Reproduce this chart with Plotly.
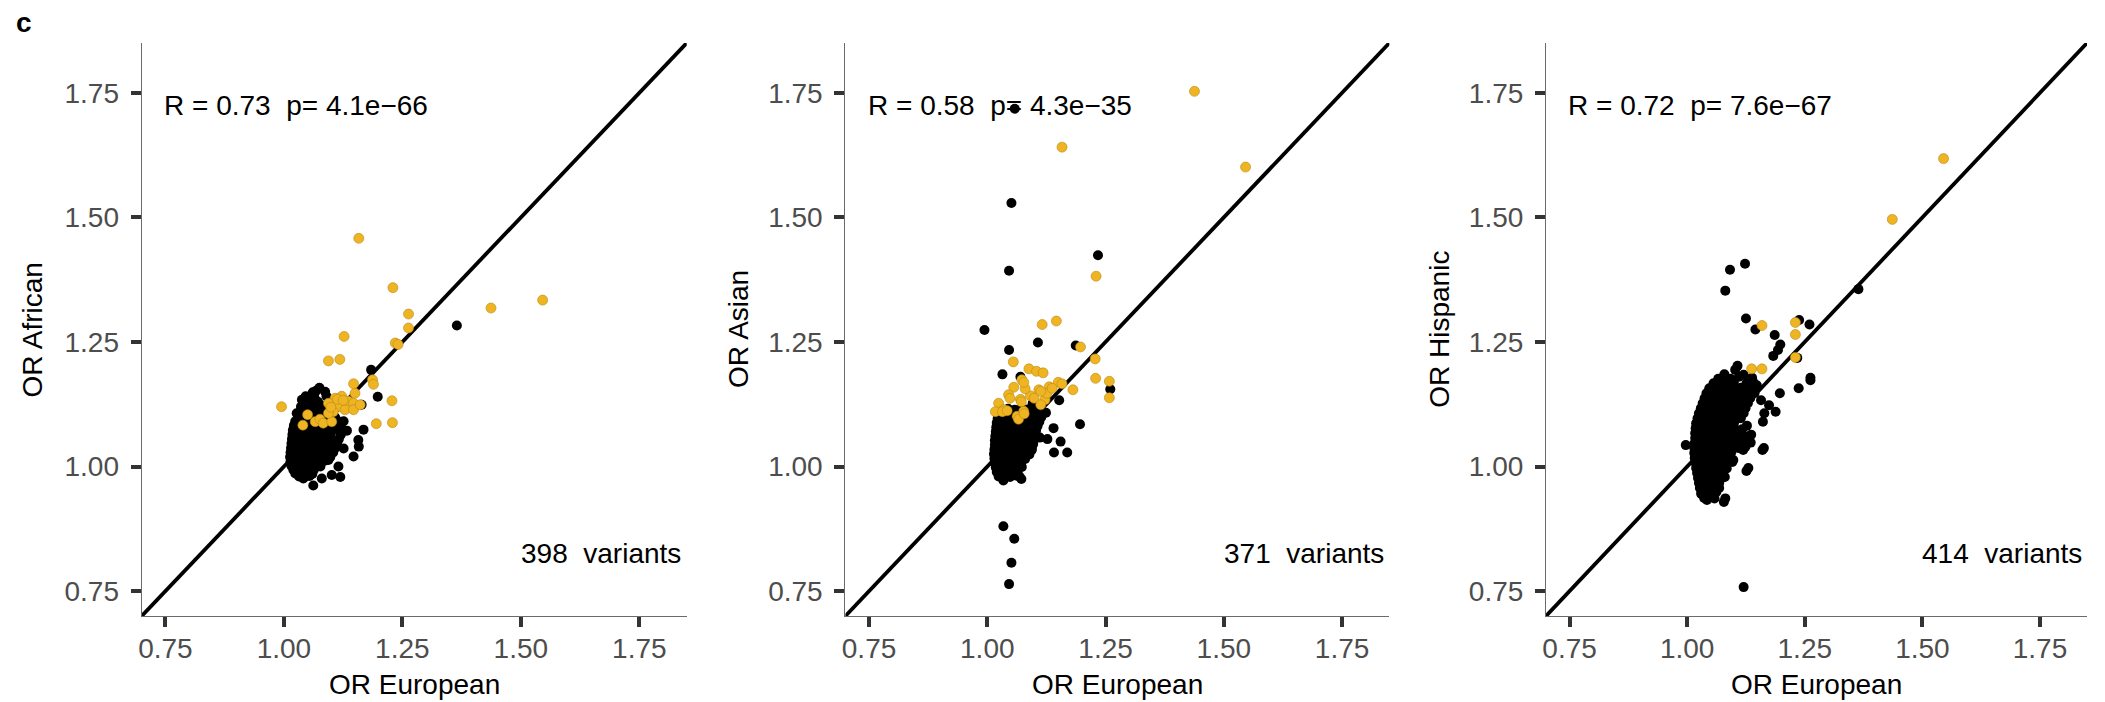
import plotly.graph_objects as go

# Shared axis settings (odds ratios)
AXIS_MIN, AXIS_MAX = 0.7, 1.85
TICK_VALS = [0.75, 1.00, 1.25, 1.50, 1.75]
TICK_TEXT = ["0.75", "1.00", "1.25", "1.50", "1.75"]

populations = ["African", "Asian", "Hispanic"]
r_values = ["0.73", "0.58", "0.72"]
p_values = ["4.1e\u221266", "4.3e\u221235", "7.6e\u221267"]
n_variants = [398, 371, 414]

# ---------------- African vs European ----------------
afr_highlight = [
    (1.158, 1.458), (1.230, 1.359), (1.263, 1.306), (1.263, 1.278), (1.437, 1.318),
    (1.546, 1.334), (1.127, 1.261), (1.235, 1.248), (1.241, 1.245), (1.094, 1.212),
    (1.118, 1.215), (1.147, 1.166), (1.187, 1.174), (1.189, 1.165), (1.228, 1.132),
    (1.229, 1.088), (1.195, 1.086), (0.995, 1.120), (1.040, 1.083), (1.050, 1.104),
    (1.066, 1.090), (1.076, 1.095), (1.083, 1.087), (1.101, 1.090), (1.108, 1.137),
    (1.122, 1.141), (1.136, 1.131), (1.150, 1.147), (1.147, 1.127), (1.118, 1.120),
    (1.104, 1.110), (1.129, 1.114), (1.147, 1.114), (1.161, 1.124), (1.094, 1.127),
    (1.094, 1.107), (1.099, 1.119), (1.113, 1.135), (1.125, 1.133),
]
afr_other = [
    (1.365, 1.283), (1.184, 1.194), (1.198, 1.140), (1.168, 1.074), (1.157, 1.053),
    (1.158, 1.040), (1.133, 1.072), (1.126, 1.036), (1.119, 0.979), (1.115, 1.000),
    (1.101, 0.983), (1.094, 1.013), (1.062, 0.962), (1.080, 0.976), (1.164, 1.124),
    (1.042, 1.133), (1.075, 1.158), (1.061, 1.149), (1.087, 1.150), (1.038, 1.134),
    (1.027, 1.107), (1.147, 1.020), (1.090, 1.141), (1.077, 1.000),
    (1.041, 0.976),
    (1.032, 0.980), (1.044, 0.979), (1.054, 0.981),
    (1.024, 0.986), (1.036, 0.984), (1.048, 0.987), (1.060, 0.985),
    (1.020, 0.993), (1.030, 0.994), (1.041, 0.992), (1.052, 0.995), (1.063, 0.993),
    (1.016, 1.001), (1.027, 1.002), (1.038, 1.000), (1.049, 1.003), (1.060, 1.001), (1.070, 1.002),
    (1.014, 1.010), (1.025, 1.011), (1.036, 1.009), (1.047, 1.012), (1.058, 1.010), (1.069, 1.011),
    (1.080, 1.009), (1.088, 1.012),
    (1.013, 1.019), (1.024, 1.020), (1.035, 1.018), (1.046, 1.021), (1.057, 1.019), (1.068, 1.020),
    (1.079, 1.018), (1.091, 1.021), (1.098, 1.019),
    (1.014, 1.028), (1.025, 1.029), (1.036, 1.027), (1.047, 1.030), (1.058, 1.028), (1.069, 1.029),
    (1.080, 1.027), (1.092, 1.030), (1.104, 1.028),
    (1.015, 1.037), (1.026, 1.038), (1.037, 1.036), (1.048, 1.039), (1.059, 1.037), (1.070, 1.038),
    (1.081, 1.036), (1.093, 1.039), (1.108, 1.037),
    (1.016, 1.046), (1.027, 1.047), (1.038, 1.045), (1.049, 1.048), (1.060, 1.046), (1.071, 1.047),
    (1.083, 1.045), (1.095, 1.048), (1.112, 1.046),
    (1.017, 1.055), (1.028, 1.056), (1.039, 1.054), (1.050, 1.057), (1.061, 1.055), (1.072, 1.056),
    (1.084, 1.054), (1.097, 1.057), (1.116, 1.055),
    (1.018, 1.064), (1.029, 1.065), (1.040, 1.063), (1.051, 1.066), (1.062, 1.064), (1.074, 1.065),
    (1.086, 1.063), (1.099, 1.066), (1.120, 1.064),
    (1.019, 1.073), (1.031, 1.074), (1.042, 1.072), (1.053, 1.075), (1.064, 1.073), (1.076, 1.074),
    (1.088, 1.072), (1.101, 1.075), (1.116, 1.073),
    (1.021, 1.082), (1.034, 1.083), (1.045, 1.081), (1.056, 1.084), (1.067, 1.082), (1.079, 1.083),
    (1.091, 1.081), (1.104, 1.084), (1.120, 1.082),
    (1.024, 1.091), (1.038, 1.092), (1.049, 1.090), (1.060, 1.093), (1.072, 1.091), (1.085, 1.092),
    (1.098, 1.090), (1.112, 1.093), (1.126, 1.091),
    (1.031, 1.100), (1.043, 1.101), (1.055, 1.099), (1.067, 1.102), (1.080, 1.100), (1.093, 1.101),
    (1.108, 1.099),
    (1.035, 1.110), (1.048, 1.111), (1.062, 1.109), (1.077, 1.112), (1.090, 1.109),
    (1.036, 1.120), (1.052, 1.121), (1.068, 1.119), (1.084, 1.122),
    (1.046, 1.141), (1.064, 1.140), (1.057, 1.126), (1.072, 1.130),
    (1.068, 1.152),
]

# ---------------- Asian vs European ----------------
asn_highlight = [
    (1.438, 1.753), (1.158, 1.641), (1.546, 1.601), (1.230, 1.382), (1.146, 1.292),
    (1.116, 1.285), (1.197, 1.240), (1.228, 1.216), (1.229, 1.177), (1.258, 1.171),
    (1.258, 1.138), (1.181, 1.154), (1.055, 1.210), (1.088, 1.196), (1.104, 1.191),
    (1.118, 1.188), (1.150, 1.169), (1.158, 1.166), (1.131, 1.160), (1.073, 1.174),
    (1.056, 1.159), (1.045, 1.144), (1.070, 1.135), (1.091, 1.142), (1.109, 1.154),
    (1.122, 1.134), (1.126, 1.147), (1.024, 1.127), (1.017, 1.110), (1.035, 1.114),
    (1.063, 1.101), (1.077, 1.111), (1.032, 1.110), (1.042, 1.112), (1.066, 1.095),
    (1.078, 1.106), (1.072, 1.130), (1.048, 1.137), (1.080, 1.156), (1.077, 1.169),
    (1.099, 1.137), (1.113, 1.124), (1.137, 1.157), (1.113, 1.151),
]
asn_other = [
    (1.058, 1.718), (1.051, 1.529), (1.046, 1.393), (0.994, 1.274), (1.046, 1.234),
    (1.107, 1.249), (1.187, 1.243), (1.234, 1.424), (1.032, 1.185), (1.070, 1.180),
    (1.260, 1.155), (1.152, 1.133), (1.124, 1.108), (1.196, 1.085), (1.140, 1.077),
    (1.111, 1.058), (1.127, 1.055), (1.155, 1.050), (1.141, 1.028), (1.169, 1.028),
    (1.072, 0.975), (1.034, 0.972), (1.034, 0.880), (1.057, 0.855), (1.051, 0.807),
    (1.046, 0.764), (1.094, 1.033), (1.089, 1.024), (1.096, 1.127),
    (1.024, 0.980), (1.036, 0.981), (1.048, 0.979), (1.060, 0.982), (1.068, 0.980),
    (1.020, 0.989), (1.031, 0.990), (1.042, 0.988), (1.053, 0.991), (1.064, 0.989),
    (1.018, 0.998), (1.029, 0.999), (1.040, 0.997), (1.051, 1.000), (1.062, 0.998), (1.073, 0.999),
    (1.016, 1.007), (1.027, 1.008), (1.038, 1.006), (1.049, 1.009), (1.060, 1.007), (1.071, 1.008),
    (1.015, 1.016), (1.026, 1.017), (1.037, 1.015), (1.048, 1.018), (1.059, 1.016), (1.070, 1.017),
    (1.080, 1.015),
    (1.014, 1.025), (1.025, 1.026), (1.036, 1.024), (1.047, 1.027), (1.058, 1.025), (1.069, 1.026),
    (1.081, 1.024),
    (1.015, 1.034), (1.026, 1.035), (1.037, 1.033), (1.048, 1.036), (1.059, 1.034), (1.070, 1.035),
    (1.082, 1.033), (1.094, 1.036),
    (1.016, 1.043), (1.027, 1.044), (1.038, 1.042), (1.049, 1.045), (1.060, 1.043), (1.072, 1.044),
    (1.084, 1.042), (1.097, 1.045),
    (1.016, 1.052), (1.027, 1.053), (1.038, 1.051), (1.049, 1.054), (1.061, 1.052), (1.073, 1.053),
    (1.086, 1.051), (1.099, 1.054),
    (1.017, 1.061), (1.028, 1.062), (1.039, 1.060), (1.050, 1.063), (1.062, 1.061), (1.074, 1.062),
    (1.087, 1.060), (1.101, 1.063),
    (1.018, 1.070), (1.029, 1.071), (1.040, 1.069), (1.051, 1.072), (1.063, 1.070), (1.075, 1.071),
    (1.088, 1.069), (1.103, 1.072),
    (1.019, 1.079), (1.030, 1.080), (1.041, 1.078), (1.053, 1.081), (1.065, 1.079), (1.077, 1.080),
    (1.090, 1.078), (1.106, 1.081),
    (1.020, 1.088), (1.031, 1.089), (1.043, 1.087), (1.055, 1.090), (1.067, 1.088), (1.080, 1.089),
    (1.094, 1.087), (1.110, 1.090),
    (1.022, 1.097), (1.033, 1.098), (1.045, 1.096), (1.057, 1.099), (1.070, 1.097), (1.084, 1.098),
    (1.098, 1.096), (1.114, 1.099),
    (1.025, 1.106), (1.037, 1.107), (1.049, 1.105), (1.062, 1.108), (1.076, 1.106), (1.090, 1.107),
    (1.104, 1.105),
    (1.030, 1.115), (1.044, 1.116), (1.058, 1.114), (1.072, 1.117), (1.087, 1.115), (1.100, 1.116),
]

# ---------------- Hispanic vs European ----------------
his_highlight = [
    (1.545, 1.618), (1.436, 1.496), (1.159, 1.283), (1.230, 1.289), (1.230, 1.265),
    (1.230, 1.219), (1.137, 1.196), (1.159, 1.196),
]
his_other = [
    (1.123, 1.407), (1.091, 1.395), (1.081, 1.353), (1.364, 1.356), (1.125, 1.297),
    (1.238, 1.294), (1.260, 1.285), (1.145, 1.275), (1.186, 1.264), (1.198, 1.245),
    (1.193, 1.234), (1.183, 1.222), (1.234, 1.218), (1.107, 1.202), (1.262, 1.178),
    (1.262, 1.173), (1.237, 1.157), (1.197, 1.147), (1.102, 1.194),
    (1.157, 1.133), (1.174, 1.123), (1.164, 1.107), (1.188, 1.110), (1.161, 1.090),
    (1.127, 1.082), (1.160, 1.033), (1.126, 0.991), (1.096, 1.009), (1.080, 0.979),
    (1.078, 0.929), (0.997, 1.043), (1.042, 0.933), (1.030, 0.945), (1.120, 0.758),
    (1.163, 1.037), (1.130, 0.997), (1.098, 1.013), (1.081, 0.936), (1.043, 0.938),
    (1.114, 1.059), (1.126, 1.050), (1.119, 1.033),
    (1.036, 0.937), (1.048, 0.939), (1.058, 0.936),
    (1.030, 0.947), (1.041, 0.948), (1.052, 0.946), (1.062, 0.949),
    (1.027, 0.957), (1.038, 0.958), (1.049, 0.956), (1.060, 0.959), (1.068, 0.957),
    (1.025, 0.967), (1.036, 0.968), (1.047, 0.966), (1.058, 0.969), (1.068, 0.967),
    (1.023, 0.977), (1.034, 0.978), (1.045, 0.976), (1.056, 0.979), (1.067, 0.977), (1.076, 0.978),
    (1.021, 0.987), (1.032, 0.988), (1.043, 0.986), (1.054, 0.989), (1.065, 0.987), (1.076, 0.988),
    (1.019, 0.997), (1.030, 0.998), (1.041, 0.996), (1.052, 0.999), (1.063, 0.997), (1.074, 0.998),
    (1.084, 0.996),
    (1.018, 1.007), (1.029, 1.008), (1.040, 1.006), (1.051, 1.009), (1.062, 1.007), (1.073, 1.008),
    (1.085, 1.006),
    (1.016, 1.017), (1.027, 1.018), (1.038, 1.016), (1.049, 1.019), (1.060, 1.017), (1.071, 1.018),
    (1.083, 1.016), (1.092, 1.019),
    (1.015, 1.027), (1.026, 1.028), (1.037, 1.026), (1.048, 1.029), (1.059, 1.027), (1.070, 1.028),
    (1.082, 1.026), (1.094, 1.029),
    (1.015, 1.037), (1.026, 1.038), (1.037, 1.036), (1.048, 1.039), (1.059, 1.037), (1.071, 1.038),
    (1.083, 1.036), (1.096, 1.039), (1.110, 1.037), (1.124, 1.040),
    (1.016, 1.047), (1.025, 1.048), (1.036, 1.046), (1.047, 1.049), (1.058, 1.047), (1.070, 1.048),
    (1.082, 1.046), (1.095, 1.049), (1.108, 1.047), (1.121, 1.050), (1.135, 1.048),
    (1.017, 1.057), (1.025, 1.058), (1.036, 1.056), (1.047, 1.059), (1.058, 1.057), (1.070, 1.058),
    (1.083, 1.056), (1.097, 1.059), (1.112, 1.057), (1.128, 1.060),
    (1.017, 1.067), (1.026, 1.068), (1.037, 1.066), (1.048, 1.069), (1.059, 1.067), (1.071, 1.068),
    (1.084, 1.066), (1.098, 1.069), (1.114, 1.067), (1.136, 1.064),
    (1.018, 1.077), (1.026, 1.078), (1.037, 1.076), (1.048, 1.079), (1.060, 1.077), (1.072, 1.078),
    (1.085, 1.076), (1.099, 1.079), (1.117, 1.075),
    (1.019, 1.087), (1.027, 1.088), (1.038, 1.086), (1.049, 1.089), (1.061, 1.087), (1.073, 1.088),
    (1.086, 1.086), (1.100, 1.089),
    (1.022, 1.097), (1.030, 1.098), (1.041, 1.096), (1.051, 1.099), (1.063, 1.097), (1.075, 1.098),
    (1.088, 1.096), (1.102, 1.099), (1.114, 1.097),
    (1.025, 1.107), (1.034, 1.108), (1.045, 1.106), (1.055, 1.109), (1.067, 1.107), (1.080, 1.108),
    (1.093, 1.106), (1.107, 1.109), (1.120, 1.107),
    (1.029, 1.117), (1.039, 1.118), (1.050, 1.116), (1.061, 1.119), (1.073, 1.117), (1.086, 1.118),
    (1.099, 1.116), (1.112, 1.119), (1.124, 1.117),
    (1.033, 1.127), (1.044, 1.128), (1.055, 1.126), (1.067, 1.129), (1.080, 1.127), (1.093, 1.128),
    (1.106, 1.126), (1.118, 1.129), (1.129, 1.127),
    (1.037, 1.137), (1.048, 1.138), (1.060, 1.136), (1.072, 1.139), (1.084, 1.137), (1.097, 1.138),
    (1.110, 1.136), (1.122, 1.139), (1.134, 1.137),
    (1.041, 1.147), (1.053, 1.148), (1.066, 1.146), (1.079, 1.149), (1.092, 1.147), (1.105, 1.148),
    (1.118, 1.146), (1.131, 1.149), (1.143, 1.147),
    (1.047, 1.157), (1.060, 1.158), (1.072, 1.156), (1.086, 1.159), (1.100, 1.157), (1.114, 1.158),
    (1.128, 1.156), (1.140, 1.159), (1.148, 1.163),
    (1.056, 1.167), (1.070, 1.168), (1.084, 1.166), (1.099, 1.169), (1.126, 1.167), (1.140, 1.170),
    (1.066, 1.176), (1.079, 1.179), (1.092, 1.176), (1.138, 1.178), (1.110, 1.180),
    (1.079, 1.185), (1.120, 1.184),
]

panels = [
    (afr_other, afr_highlight),
    (asn_other, asn_highlight),
    (his_other, his_highlight),
]

W, H = 2105, 702
x_domains = [(138 / W, 684 / W), (843 / W, 1388 / W), (1545 / W, 2087 / W)]
y_domain = (1 - 616 / H, 1 - 43 / H)
ytitle_x = [29 / W, 736 / W, 1438 / W]

FONT = "Liberation Sans, Arial, Helvetica, sans-serif"
TEXT_SIZE = 28
HIGHLIGHT = "#EEB422"

fig = go.Figure()

for i, (other, highlight) in enumerate(panels):
    suffix = "" if i == 0 else str(i + 1)
    xa, ya = "x" + suffix, "y" + suffix

    # y = x reference line
    fig.add_trace(go.Scatter(
        x=[AXIS_MIN, AXIS_MAX], y=[AXIS_MIN, AXIS_MAX], mode="lines",
        line=dict(color="black", width=3.8), xaxis=xa, yaxis=ya,
        hoverinfo="skip", showlegend=False,
    ))
    fig.add_trace(go.Scatter(
        x=[p[0] for p in other], y=[p[1] for p in other], mode="markers",
        marker=dict(size=10, color="black", line=dict(width=0)),
        xaxis=xa, yaxis=ya, showlegend=False,
    ))
    fig.add_trace(go.Scatter(
        x=[p[0] for p in highlight], y=[p[1] for p in highlight], mode="markers",
        marker=dict(size=10, color=HIGHLIGHT, line=dict(width=0.6, color="#B8891A")),
        xaxis=xa, yaxis=ya, showlegend=False,
    ))

    axis_common = dict(
        range=[AXIS_MIN, AXIS_MAX], tickvals=TICK_VALS, ticktext=TICK_TEXT,
        showgrid=False, zeroline=False, showline=True, linecolor="#6b6b6b", linewidth=1.3,
        ticks="outside", ticklen=10, tickwidth=3.5, tickcolor="#333333",
        tickfont=dict(family=FONT, size=TEXT_SIZE, color="#4D4D4D"),
    )
    fig.update_layout(**{
        "xaxis" + suffix: dict(domain=list(x_domains[i]), anchor=ya,
                               ticklabelstandoff=-3, **axis_common),
        "yaxis" + suffix: dict(domain=list(y_domain), anchor=xa,
                               ticklabelstandoff=6, **axis_common),
    })

    # correlation summary
    fig.add_annotation(
        x=0.743, y=1.725, xref=xa, yref=ya, xanchor="left", yanchor="middle",
        text=f"R = {r_values[i]}  p= {p_values[i]}", showarrow=False,
        font=dict(family=FONT, size=TEXT_SIZE, color="black"),
    )
    # number of variants
    fig.add_annotation(
        x=1.843, y=0.826, xref=xa, yref=ya, xanchor="right", yanchor="middle",
        text=f"{n_variants[i]}  variants", showarrow=False,
        font=dict(family=FONT, size=TEXT_SIZE, color="black"),
    )
    # axis titles
    fig.add_annotation(
        x=0.5, y=1 - 684 / H, xref=xa + " domain", yref="paper",
        xanchor="center", yanchor="middle", text="OR European", showarrow=False,
        font=dict(family=FONT, size=TEXT_SIZE, color="black"),
    )
    fig.add_annotation(
        x=ytitle_x[i], y=0.5, xref="paper", yref=ya + " domain",
        xanchor="center", yanchor="middle", text=f"OR {populations[i]}",
        textangle=-90, showarrow=False,
        font=dict(family=FONT, size=TEXT_SIZE, color="black"),
    )

# panel letter
fig.add_annotation(
    x=20 / W, y=1 - 22 / H, xref="paper", yref="paper", xanchor="center", yanchor="middle",
    text="<b>c</b>", showarrow=False, font=dict(family=FONT, size=28, color="black"),
)

fig.update_layout(
    width=W, height=H, margin=dict(l=0, r=0, t=0, b=0),
    paper_bgcolor="white", plot_bgcolor="white",
)

fig.write_html("out.html")
